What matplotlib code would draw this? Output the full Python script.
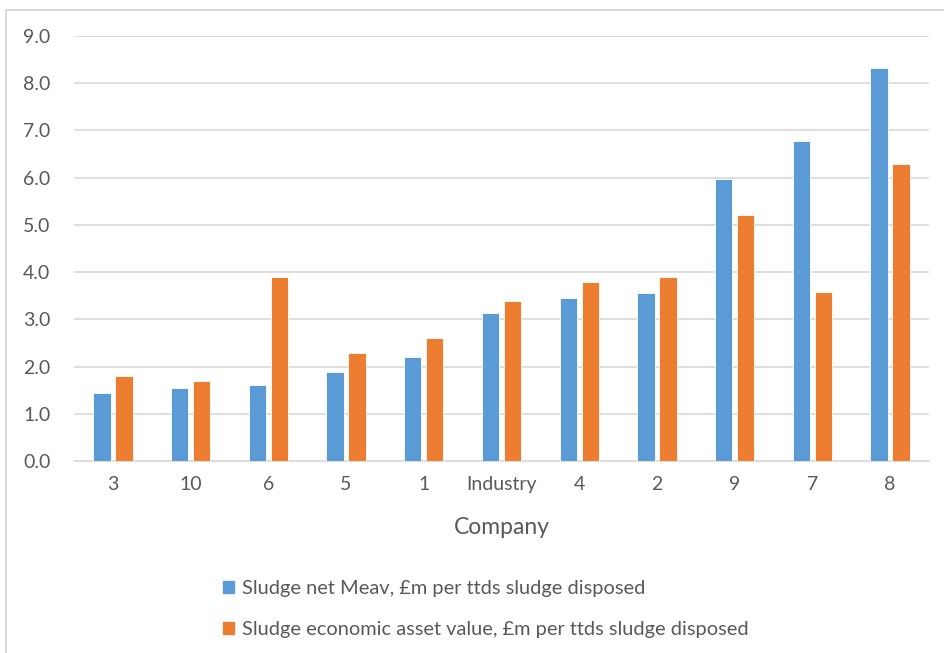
import matplotlib.pyplot as plt
import numpy as np
from matplotlib.patches import Patch

# Sludge values by company, sorted by net MEAV
companies = ['3', '10', '6', '5', '1', 'Industry', '4', '2', '9', '7', '8']
net_meav = [1.45, 1.55, 1.6, 1.89, 2.21, 3.14, 3.45, 3.55, 5.98, 6.77, 8.33]
econ_value = [1.8, 1.7, 3.9, 2.28, 2.6, 3.38, 3.8, 3.9, 5.2, 3.57, 6.3]
yticks = np.arange(0, 9.5, 1.0)

series_names = ['Sludge net Meav, £m per ttds sludge disposed',
                'Sludge economic asset value, £m per ttds sludge disposed']

blue = '#5B9BD5'
orange = '#ED7D31'
grey_text = '#595959'
grid_col = '#D9D9D9'

plt.rcParams['font.family'] = ['Lato', 'DejaVu Sans']

fig = plt.figure(figsize=(9.44, 6.53), dpi=100)
ax = fig.add_axes([74 / 944, 1 - 461 / 653, 855 / 944, 425 / 653])

x = np.arange(len(companies))
w = 0.224
off = 0.1415
ax.bar(x - off, net_meav, w, color=blue, edgecolor='white', linewidth=0.6, zorder=3)
ax.bar(x + off, econ_value, w, color=orange, edgecolor='white', linewidth=0.6, zorder=3)

ax.set_xlim(-0.5, len(companies) - 0.5)
ax.set_ylim(0, 9)
ax.set_yticks(yticks)
ax.set_yticklabels([f'{v:.1f}' for v in yticks])
ax.set_xticks(x)
ax.set_xticklabels(companies)
ax.tick_params(length=0, labelsize=14, colors=grey_text)
ax.tick_params(axis='x', pad=11)
ax.tick_params(axis='y', pad=17)
ax.yaxis.grid(True, color=grid_col, linewidth=1.2, zorder=0)
for s in ['top', 'right', 'left']:
    ax.spines[s].set_visible(False)
ax.spines['bottom'].set_color(grid_col)
ax.spines['bottom'].set_linewidth(1.2)
ax.set_xlabel('Company', fontsize=16.5, color=grey_text, labelpad=17)

handles = [Patch(color=blue), Patch(color=orange)]
fig.legend(handles, series_names, loc='center', bbox_to_anchor=(486 / 944, 1 - 609 / 653),
           frameon=False, fontsize=14.4, labelcolor=grey_text, handlelength=0.55,
           handleheight=0.55, handletextpad=0.4, labelspacing=1.2, alignment='left')

# chart area border along the top and left edges
fig.add_artist(plt.Line2D([6 / 944, 1], [1 - 10 / 653] * 2, color=grid_col, linewidth=1.5))
fig.add_artist(plt.Line2D([6 / 944] * 2, [0, 1 - 10 / 653], color=grid_col, linewidth=1.5))

fig.savefig('out.png', dpi=100)
